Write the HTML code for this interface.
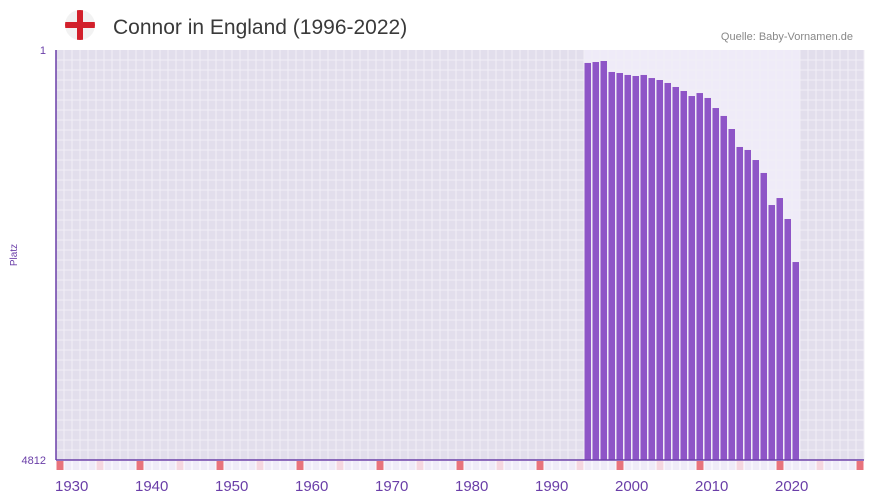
<!DOCTYPE html>
<html><head><meta charset="utf-8"><style>
body{margin:0;background:#fff;font-family:"Liberation Sans",sans-serif}
svg{display:block}
</style></head><body>
<svg id="c" width="873" height="502">
<defs><clipPath id="fc"><circle cx="80" cy="25" r="15"/></clipPath></defs>
<g>
<circle cx="80" cy="25" r="15" fill="#f2f2f2"/>
<g clip-path="url(#fc)">
<rect x="65" y="22" width="30" height="6" fill="#d2202b"/>
<rect x="77" y="10" width="6" height="30" fill="#d2202b"/>
</g>
<text x="113" y="34" font-size="21" fill="#3a3a3a">Connor in England (1996-2022)</text>
<text x="853" y="40" font-size="11" fill="#888" text-anchor="end">Quelle: Baby-Vornamen.de</text>
</g>
<text x="17" y="255" font-size="10" fill="#6a3ea8" transform="rotate(-90 17 255)" text-anchor="middle">Platz</text>
<g id="bg"></g><g id="grid"></g><g id="bars"></g><g id="marks"></g><g id="axes"></g>
</svg>
<script>
const years=[1996,1997,1998,1999,2000,2001,2002,2003,2004,2005,2006,2007,2008,2009,2010,2011,2012,2013,2014,2015,2016,2017,2018,2019,2020,2021,2022];
const ranks=[153,142,130,259,271,294,306,294,330,353,388,435,482,541,506,564,682,775,928,1139,1174,1292,1444,1820,1738,1984,2489];
const yTicks=[1,4812];
const xTickLabels=[1930,1940,1950,1960,1970,1980,1990,2000,2010,2020];
const X0=56,SLOT=8,Y0=50,Y1=460,minYear=1930,maxYear=2030,minRank=1,maxRank=4812;
const NS="http://www.w3.org/2000/svg";
function xs(y){return X0+(y-minYear)*SLOT}
function ys(r){return Y0+(r-minRank)/(maxRank-minRank)*(Y1-Y0)}
function mk(p,t,a){const e=document.createElementNS(NS,t);for(const k in a)e.setAttribute(k,a[k]);document.getElementById(p).appendChild(e);return e}
const W=xs(maxYear+1)-X0;
let e=mk('bg','rect',{x:X0,y:Y0,width:W,height:Y1-Y0,fill:'#e2deec'});


e=mk('bg','rect',{x:xs(years[0]),y:Y0,width:xs(years[years.length-1]+1)-xs(years[0]),height:Y1-Y0,fill:'#efebf8'});


for(let y=minYear;y<=maxYear+1;y++){mk('grid','line',{x1:xs(y),x2:xs(y),y1:Y0,y2:Y1,stroke:'#f1eff6','stroke-width':1});}
for(let yy=Y0+10;yy<Y1;yy+=10){mk('grid','line',{x1:X0,x2:X0+W,y1:yy,y2:yy,stroke:'#f1eff6','stroke-width':1});}
years.forEach((y,i)=>{const t=ys(ranks[i]);
const b=mk('bars','rect',{x:xs(y)+0.5,y:t,width:SLOT-1.5,height:Y1-t,fill:'#8e55c7'});

});
for(let y=minYear;y<=maxYear;y++){const c=y%10==0?'#e8737c':(y%5==0?'#f5d7e0':'#efebf8');
const m=mk('marks','rect',{x:xs(y)+0.5,y:461,width:SLOT-1,height:9,fill:c});

}
mk('axes','line',{x1:X0,x2:X0,y1:Y0,y2:Y1,stroke:'#6a3ea8','stroke-width':1.5});
mk('axes','line',{x1:X0,x2:X0+W,y1:Y1,y2:Y1,stroke:'#6a3ea8','stroke-width':1.5});
yTicks.forEach(r=>{const t=mk('axes','text',{x:46,y:ys(r)+4,'font-size':11,fill:'#6a3ea8','text-anchor':'end'});t.textContent=r;

});
xTickLabels.forEach(y=>{const t=mk('axes','text',{x:xs(y)-1,y:491,'font-size':15,fill:'#6a3ea8'});t.textContent=y;

});
</script>
</body></html>
